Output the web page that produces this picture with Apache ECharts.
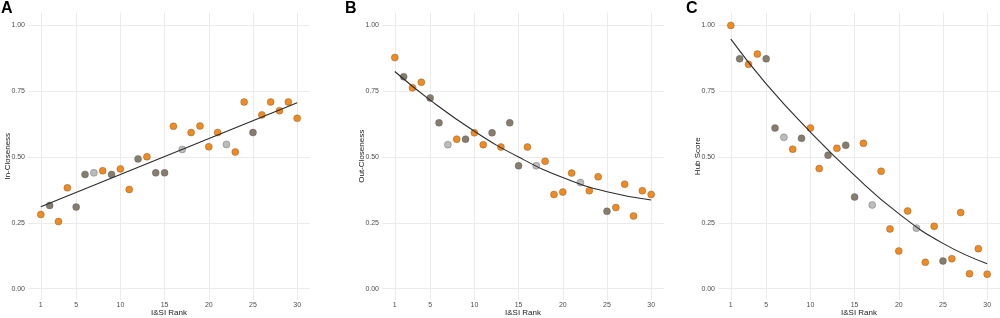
<!DOCTYPE html>
<html>
<head>
<meta charset="utf-8">
<script src="https://cdn.jsdelivr.net/npm/echarts@6/dist/echarts.min.js"></script>
<style>
html, body { margin: 0; padding: 0; background: #fff; }
#main { width: 1000px; height: 318px; }
</style>
</head>
<body>
<div id="main"></div>
<script>
// ranks on the x axis, same for all three panels
var rank = [1, 2, 3, 4, 5, 6, 7, 8, 9, 10, 11, 12, 13, 14, 15, 16, 17, 18, 19, 20, 21, 22, 23, 24, 25, 26, 27, 28, 29, 30];
// point colour group per rank: o = orange, b = brown-grey, g = light grey
var group = ['o', 'b', 'o', 'o', 'b', 'b', 'g', 'o', 'b', 'o', 'o', 'b', 'o', 'b', 'b', 'o', 'g', 'o', 'o', 'o', 'o', 'g', 'o', 'o', 'b', 'o', 'o', 'o', 'o', 'o'];

var inCloseness = [0.282, 0.316, 0.255, 0.383, 0.310, 0.434, 0.440, 0.448, 0.434, 0.455, 0.377, 0.493, 0.501, 0.440, 0.440,
    0.617, 0.529, 0.593, 0.618, 0.539, 0.593, 0.548, 0.519, 0.709, 0.593, 0.660, 0.709, 0.676, 0.709, 0.647];
var outCloseness = [0.878, 0.805, 0.763, 0.784, 0.724, 0.630, 0.547, 0.568, 0.568, 0.592, 0.547, 0.592, 0.538, 0.630, 0.467,
    0.538, 0.467, 0.484, 0.358, 0.367, 0.439, 0.403, 0.372, 0.425, 0.294, 0.308, 0.397, 0.276, 0.372, 0.358];
var hubScore = [1.000, 0.873, 0.852, 0.891, 0.873, 0.610, 0.575, 0.530, 0.571, 0.610, 0.456, 0.507, 0.533, 0.545, 0.348,
    0.552, 0.318, 0.446, 0.227, 0.143, 0.295, 0.230, 0.100, 0.237, 0.105, 0.114, 0.289, 0.057, 0.152, 0.055];

// fitted curves
var fitInX = [1, 30];
var fitIn = [0.311, 0.706];
var fitOutX = [1, 5, 10, 15, 20, 25, 30];
var fitOut = [0.825, 0.716, 0.598, 0.500, 0.422, 0.368, 0.337];
var fitHubX = [1, 5, 10, 15, 20, 25, 30];
var fitHub = [0.948, 0.778, 0.595, 0.430, 0.285, 0.172, 0.095];

var xTicks = [1, 5, 10, 15, 20, 25, 30];
var yTicks = [0, 0.25, 0.5, 0.75, 1];

var panelLabels = ['A', 'B', 'C'];
var yNames = ['In-Closeness', 'Out-Closeness', 'Hub Score'];

var chart = echarts.init(document.getElementById('main'), null, { renderer: 'canvas' });

var groupColor = { o: '#f28a1e', b: '#867d6c', g: '#bcbcbc' };
var panels = [
    { left: 28, width: 282, vals: inCloseness, fx: fitInX, fy: fitIn },
    { left: 382, width: 282, vals: outCloseness, fx: fitOutX, fy: fitOut },
    { left: 718, width: 282, vals: hubScore, fx: fitHubX, fy: fitHub }
];

var grids = [], xAxes = [], yAxes = [], series = [], titles = [];
var labelX = [1, 345, 686];

panels.forEach(function (p, i) {
    grids.push({ left: p.left, top: 12.5, width: p.width, height: 287.5, outerBoundsMode: 'none', containLabel: false });
    xAxes.push({
        gridIndex: i, type: 'value', min: -0.45, max: 31.45,
        axisLine: { show: false },
        axisTick: { show: false, customValues: xTicks },
        axisLabel: { customValues: xTicks, fontSize: 7, color: '#4d4d4d', margin: 2, fontFamily: 'Liberation Sans' },
        splitLine: { show: true, lineStyle: { color: '#ebebeb', width: 1 } },
        name: 'I&SI Rank', nameLocation: 'middle', nameGap: 9, nameMoveOverlap: false,
        nameTextStyle: { fontSize: 8, color: '#1a1a1a', fontFamily: 'Liberation Sans' }
    });
    yAxes.push({
        gridIndex: i, type: 'value', min: -0.043, max: 1.049,
        axisLine: { show: false },
        axisTick: { show: false, customValues: yTicks },
        axisLabel: {
            customValues: yTicks, fontSize: 7, color: '#4d4d4d', margin: 3, fontFamily: 'Liberation Sans',
            formatter: function (v) { return v.toFixed(2); }
        },
        splitLine: { show: true, lineStyle: { color: '#ebebeb', width: 1 } },
        name: yNames[i], nameLocation: 'middle', nameGap: 16, nameRotate: 90, nameMoveOverlap: false,
        nameTextStyle: { fontSize: 8, color: '#1a1a1a', fontFamily: 'Liberation Sans' }
    });
    ['o', 'b', 'g'].forEach(function (g) {
        var d = [];
        for (var k = 0; k < rank.length; k++) {
            if (group[k] === g) d.push([rank[k], p.vals[k]]);
        }
        series.push({
            type: 'scatter', xAxisIndex: i, yAxisIndex: i, data: d,
            symbolSize: 7,
            itemStyle: { color: groupColor[g], borderColor: 'rgba(70,70,70,0.55)', borderWidth: 0.6, opacity: 1 },
            emphasis: { disabled: true }, silent: true, z: 2
        });
    });
    var line = [];
    for (var k = 0; k < p.fx.length; k++) line.push([p.fx[k], p.fy[k]]);
    series.push({
        type: 'line', xAxisIndex: i, yAxisIndex: i, data: line,
        smooth: true, showSymbol: false, silent: true, z: 3,
        lineStyle: { color: '#2b2b2b', width: 1.1 }
    });
    titles.push({
        text: panelLabels[i], left: labelX[i], top: 1, padding: 0,
        textStyle: { fontSize: 16, fontWeight: 'bold', color: '#000', fontFamily: 'Liberation Sans' }
    });
});

chart.setOption({
    backgroundColor: '#fff',
    animation: false,
    title: titles,
    grid: grids,
    xAxis: xAxes,
    yAxis: yAxes,
    series: series
});
</script>
</body>
</html>
